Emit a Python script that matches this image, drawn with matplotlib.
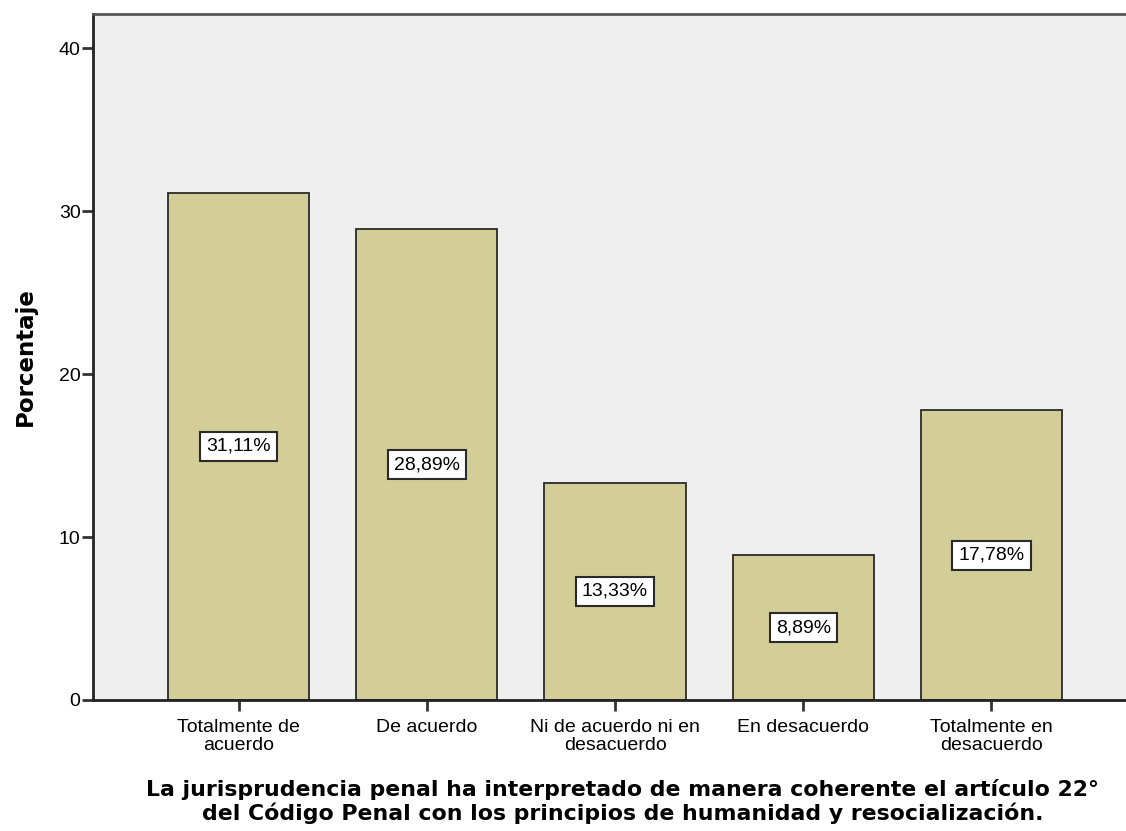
import matplotlib
matplotlib.use("Agg")
import matplotlib.pyplot as plt

categories = ["Totalmente de\nacuerdo", "De acuerdo", "Ni de acuerdo ni en\ndesacuerdo",
              "En desacuerdo", "Totalmente en\ndesacuerdo"]
values = [31.11, 28.89, 13.33, 8.89, 17.78]
labels = ["31,11%", "28,89%", "13,33%", "8,89%", "17,78%"]
yticks = [0, 10, 20, 30, 40]

plt.rcParams['font.family'] = ['Liberation Sans', 'DejaVu Sans']

fig = plt.figure(figsize=(11.26, 8.31), dpi=100)
ax = fig.add_axes([93/1126, 1-700/831, 1-93/1126, (700-14)/831])
ax.set_facecolor('#EFEFEF')

x = list(range(len(categories)))
bars = ax.bar(x, values, width=0.75, color='#D3CE97', edgecolor='#2a2a2a', linewidth=1.3, zorder=2)

for xi, v, lab in zip(x, values, labels):
    ax.text(xi, v/2, lab, ha='center', va='center', fontsize=14, color='black', zorder=3,
            bbox=dict(boxstyle='square,pad=0.31', facecolor='white', edgecolor='#2a2a2a', linewidth=1.5))

ax.set_xlim(-0.774, len(categories) - 1 + 0.715)
ax.set_ylim(0, 42.09)
ax.set_yticks(yticks)
ax.set_yticklabels([str(t) for t in yticks], fontsize=14)
ax.set_xticks(x)
ax.set_xticklabels(categories, fontsize=14, linespacing=1.05)
ax.tick_params(axis='y', length=8, width=2, color='#333333', pad=1)
ax.tick_params(axis='x', length=8, width=2, color='#333333', pad=6)

ax.spines['right'].set_visible(False)
ax.spines['top'].set_color('#555555')
ax.spines['top'].set_linewidth(2)
ax.spines['left'].set_color('#222222')
ax.spines['left'].set_linewidth(2)
ax.spines['bottom'].set_color('#222222')
ax.spines['bottom'].set_linewidth(2)

ax.set_ylabel("Porcentaje", fontsize=16.5, fontweight='bold', family=['DejaVu Sans'], labelpad=16)
fig.text(0.553, 0.036, "La jurisprudencia penal ha interpretado de manera coherente el artículo 22°\n"
         "del Código Penal con los principios de humanidad y resocialización.",
         ha='center', va='center', fontsize=15.8, fontweight='bold', family=['DejaVu Sans'],
         linespacing=1.15)

fig.savefig("out.png", dpi=100)
